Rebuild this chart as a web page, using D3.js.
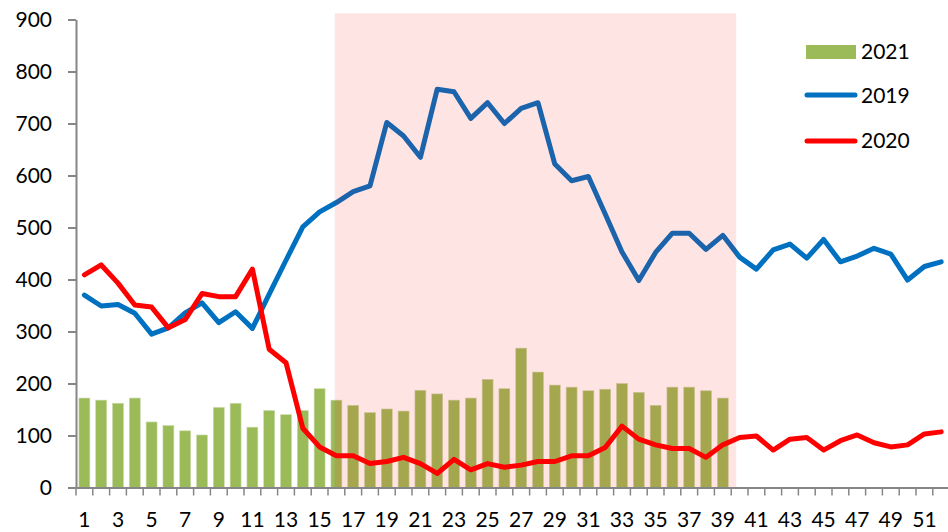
<!DOCTYPE html>
<html>
<head>
<meta charset="utf-8">
<script src="https://cdn.jsdelivr.net/npm/d3@7"></script>
<style>
  body { margin: 0; background: #fff; overflow: hidden; }
  svg { display: block; font-family: Lato, "Open Sans", sans-serif; }
</style>
</head>
<body>
<svg width="948" height="532"></svg>
<script>
// weeks 1..52
var weeks = d3.range(1, 53);
var tickLabels = weeks.filter(function(w) { return w % 2 === 1; });
var yTicks = d3.range(0, 901, 100);

var values2021 = [172, 168, 162, 172, 126, 119, 109, 101, 154, 162, 116, 148, 140, 148, 190, 168,
                  158, 144, 151, 147, 187, 180, 168, 172, 208, 190, 268, 222, 197, 193, 186, 189,
                  200, 183, 158, 193, 193, 186, 172];

var values2019 = [370, 349, 352, 335, 295, 307, 336, 355, 317, 338, 306, 372, 437, 501, 530, 548,
                  569, 580, 702, 676, 635, 766, 761, 710, 740, 700, 729, 740, 622, 590, 598, 526,
                  453, 398, 452, 489, 489, 458, 485, 443, 420, 457, 468, 441, 477, 434, 445, 460,
                  449, 399, 425, 434];

var values2020 = [409, 428, 393, 351, 347, 307, 323, 373, 367, 367, 420, 266, 240, 114, 78, 61,
                  61, 46, 50, 58, 46, 27, 54, 34, 46, 39, 43, 50, 50, 61, 61, 77,
                  118, 93, 82, 75, 75, 58, 82, 96, 99, 72, 93, 96, 72, 90, 101, 86,
                  78, 82, 103, 107];

// shaded period, in week units along the axis
var shadeFrom = 15.4, shadeTo = 39.3;

var svg = d3.select("svg");
var plotLeft = 76, plotRight = 949.6, plotTop = 19.5, plotBottom = 487.5;

var x = d3.scaleBand().domain(weeks).range([plotLeft, plotRight]).padding(0);
var xLin = d3.scaleLinear().domain([0, weeks.length]).range([plotLeft, plotRight]);
var y = d3.scaleLinear().domain([0, 900]).range([plotBottom, plotTop]);
var bw = x.bandwidth();
var cx = function(w) { return x(w) + bw / 2; };

// bars 2021
svg.append("g")
    .selectAll("rect")
    .data(values2021)
    .enter().append("rect")
    .attr("x", function(d, i) { return x(weeks[i]) + bw * 0.175; })
    .attr("width", bw * 0.65)
    .attr("y", function(d) { return y(d); })
    .attr("height", function(d) { return y(0) - y(d); })
    .attr("fill", "#9bbb59")
    .attr("stroke", "#c9d9a8")
    .attr("stroke-width", 0.6);

var line = d3.line()
    .x(function(d, i) { return cx(weeks[i]); })
    .y(function(d) { return y(d); });

svg.append("path")
    .attr("d", line(values2019))
    .attr("fill", "none")
    .attr("stroke", "#0070c0")
    .attr("stroke-width", 5)
    .attr("stroke-linejoin", "round")
    .attr("stroke-linecap", "round");

svg.append("path")
    .attr("d", line(values2020))
    .attr("fill", "none")
    .attr("stroke", "#ff0000")
    .attr("stroke-width", 5)
    .attr("stroke-linejoin", "round")
    .attr("stroke-linecap", "round");

// pink overlay
svg.append("rect")
    .attr("x", xLin(shadeFrom))
    .attr("width", xLin(shadeTo) - xLin(shadeFrom))
    .attr("y", y(912))
    .attr("height", y(0) - y(912))
    .attr("fill", "#ff0000")
    .attr("opacity", 0.105);

// y axis
var yAxis = svg.append("g")
    .attr("transform", "translate(" + plotLeft + ",0)")
    .call(d3.axisLeft(y).tickValues(yTicks).tickSize(8).tickSizeOuter(0).tickPadding(16));
yAxis.select(".domain").attr("stroke", "#868686").attr("stroke-width", 2);
yAxis.selectAll(".tick line").attr("stroke", "#868686").attr("stroke-width", 2);
yAxis.selectAll(".tick text")
    .attr("fill", "#000")
    .style("font-size", "21px")
    .style("font-family", "Lato, 'Open Sans', sans-serif");

// x axis
var xAxis = svg.append("g")
    .attr("transform", "translate(0," + plotBottom + ")")
    .call(d3.axisBottom(x).tickValues(tickLabels).tickSize(0).tickSizeOuter(0).tickPadding(25));
xAxis.select(".domain").attr("stroke", "#868686").attr("stroke-width", 2);
xAxis.selectAll(".tick text")
    .attr("fill", "#000")
    .style("font-size", "21px")
    .style("font-family", "Lato, 'Open Sans', sans-serif");

// tick marks sit between the weeks
svg.append("g")
    .selectAll("line")
    .data(weeks.concat([weeks.length + 1]))
    .enter().append("line")
    .attr("x1", function(d) { return xLin(d - 1); })
    .attr("x2", function(d) { return xLin(d - 1); })
    .attr("y1", plotBottom)
    .attr("y2", plotBottom + 8)
    .attr("stroke", "#868686")
    .attr("stroke-width", 1.5);

// legend
var legend = svg.append("g").attr("transform", "translate(806,0)");
legend.append("rect")
    .attr("x", 0).attr("y", 45).attr("width", 50).attr("height", 14)
    .attr("fill", "#9bbb59");
legend.append("line")
    .attr("x1", 1).attr("x2", 49).attr("y1", 95).attr("y2", 95)
    .attr("stroke", "#0070c0").attr("stroke-width", 5).attr("stroke-linecap", "round");
legend.append("line")
    .attr("x1", 1).attr("x2", 49).attr("y1", 141).attr("y2", 141)
    .attr("stroke", "#ff0000").attr("stroke-width", 5).attr("stroke-linecap", "round");

var legendText = [["2021", 52], ["2019", 96], ["2020", 141]];
legend.selectAll("text")
    .data(legendText)
    .enter().append("text")
    .attr("x", 55)
    .attr("y", function(d) { return d[1]; })
    .attr("dy", "0.35em")
    .style("font-size", "21px")
    .text(function(d) { return d[0]; });
</script>
</body>
</html>
